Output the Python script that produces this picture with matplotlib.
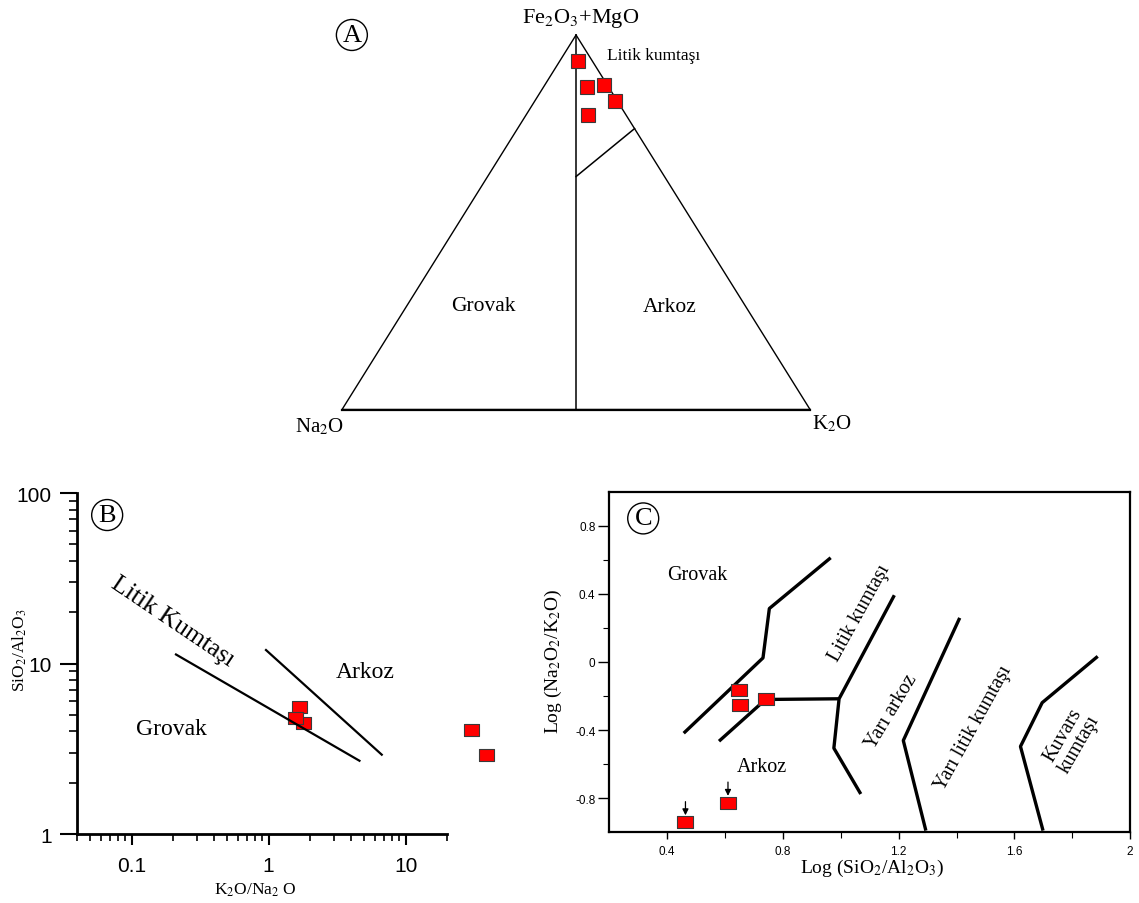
import numpy as np
import matplotlib
matplotlib.use("Agg")
import matplotlib.pyplot as plt
from matplotlib.ticker import FixedLocator, FixedFormatter, NullFormatter

plt.rcParams['font.family'] = ['Liberation Serif', 'DejaVu Serif']
plt.rcParams['mathtext.fontset'] = 'stix'

# --- A: ternary Fe2O3+MgO / Na2O / K2O (percent) ---
a_femg = [93.1, 86.1, 86.7, 82.4, 78.7]
a_na2o = [3.0, 4.7, 0.6, 0.5, 8.0]
a_k2o = [3.9, 9.2, 12.7, 17.1, 13.3]
# field boundaries (Na2O, K2O, Fe2O3+MgO)
a_div1 = [(50, 50, 0), (0, 0, 100)]
a_div2 = [(18.9, 18.9, 62.2), (0, 25, 75)]

# --- B: K2O/Na2O vs SiO2/Al2O3 ---
b_k2o_na2o = [1.66, 1.79, 1.56, 29.9, 38.7]
b_sio2_al2o3 = [5.56, 4.48, 4.77, 4.09, 2.91]
b_line1_x = [0.211, 4.60]
b_line1_y = [11.3, 2.69]
b_line2_x = [0.957, 6.69]
b_line2_y = [12.0, 2.92]

# --- C: Log(SiO2/Al2O3) vs Log(Na2O/K2O) ---
c_log_si_al = [0.648, 0.650, 0.741, 0.610, 0.463]
c_log_na_k = [-0.163, -0.251, -0.220, -0.827, -0.941]
c_bounds = [
    ([0.457, 0.731, 0.753, 0.965], [-0.418, 0.024, 0.314, 0.612]),
    ([0.579, 0.740, 0.994], [-0.465, -0.220, -0.216]),
    ([1.185, 0.994, 0.976, 1.069], [0.392, -0.216, -0.506, -0.775]),
    ([1.411, 1.216, 1.294], [0.259, -0.461, -0.99]),
    ([1.888, 1.696, 1.621, 1.699], [0.033, -0.239, -0.496, -0.99]),
]

RED = '#ff0000'
EDGE = '#3a3a3a'


def tern(na, k, fe):
    na, k, fe = np.asarray(na, float), np.asarray(k, float), np.asarray(fe, float)
    tot = na + k + fe
    return (k + fe / 2) / tot, fe / tot


def circled(ax, x, y, s, transform):
    ax.text(x, y, s, transform=transform, fontsize=19, ha='center', va='center',
            bbox=dict(boxstyle='circle,pad=0.17', fc='none', ec='black', lw=1.0))


fig = plt.figure(figsize=(11.39, 9.04), dpi=100)

# ---------------- A ----------------
axA = fig.add_axes([0.3003, 0.5459, 0.4109, 0.4143])
axA.set_xlim(0, 1)
axA.set_ylim(0, 1)
axA.axis('off')
tx, ty = tern([0, 100, 0, 0], [0, 0, 100, 0], [100, 0, 0, 100])
axA.plot(tx[:3], ty[:3], color='black', lw=1.0, clip_on=False)
axA.plot([tx[2], tx[3]], [ty[2], ty[3]], color='black', lw=1.0, clip_on=False)
axA.plot([0, 1], [0, 0], color='black', lw=1.6, clip_on=False)
for seg in (a_div1, a_div2):
    na, k, fe = zip(*seg)
    sx, sy = tern(na, k, fe)
    axA.plot(sx, sy, color='black', lw=1.1, clip_on=False)
px, py = tern(a_na2o, a_k2o, a_femg)
axA.plot(px, py, ls='none', marker='s', ms=9.6, mfc=RED, mec=EDGE, mew=0.8,
         clip_on=False, zorder=5)
axA.text(0.509, 1.048, 'Fe$_2$O$_3$+MgO', fontsize=16, ha='center', va='center')
axA.text(0.665, 0.946, 'Litik kumtaşı', fontsize=12.5, ha='center', va='center')
axA.text(0.301, 0.279, 'Grovak', fontsize=15.5, ha='center', va='center')
axA.text(0.701, 0.276, 'Arkoz', fontsize=15.5, ha='center', va='center')
axA.text(-0.047, -0.043, 'Na$_2$O', fontsize=15, ha='center', va='center')
axA.text(1.047, -0.035, 'K$_2$O', fontsize=15, ha='center', va='center')
circled(axA, 0.021, 1.0, 'A', axA.transData)

# ---------------- B ----------------
rectB = [(-1, -0.8), (1, -0.8), (1, 0.8), (-1, 0.8), (-1, -0.8)]
axB = fig.add_axes([0.0676, 0.0763, 0.3248, 0.3772])
axB.set_xscale('log')
axB.set_yscale('log')
axB.set_xlim(0.04, 20)
axB.set_ylim(1, 100)
for s in ('top', 'right'):
    axB.spines[s].set_visible(False)
for s in ('left', 'bottom'):
    axB.spines[s].set_linewidth(2.0)
axB.plot(b_line1_x, b_line1_y, color='black', lw=1.6, zorder=6)
axB.plot(b_line2_x, b_line2_y, color='black', lw=1.6, zorder=6)
axB.plot(b_k2o_na2o, b_sio2_al2o3, ls='none', marker=rectB, ms=10.8, mfc=RED,
         mec=EDGE, mew=0.8, clip_on=False, zorder=5)
axB.xaxis.set_major_locator(FixedLocator([0.1, 1, 10]))
axB.xaxis.set_major_formatter(FixedFormatter(['0.1', '1', '10']))
axB.yaxis.set_major_locator(FixedLocator([1, 10, 100]))
axB.yaxis.set_major_formatter(FixedFormatter(['1', '10', '100']))
axB.xaxis.set_minor_formatter(NullFormatter())
axB.yaxis.set_minor_formatter(NullFormatter())
axB.tick_params(axis='y', which='major', length=12, width=1.5, pad=6)
axB.tick_params(axis='y', which='minor', length=6, width=1.2)
axB.tick_params(axis='x', which='major', length=8, width=1.5, pad=8)
axB.tick_params(axis='x', which='minor', length=5, width=1.2)
for lab in axB.get_xticklabels() + axB.get_yticklabels():
    lab.set_fontfamily('Liberation Sans')
    lab.set_fontsize(15)
axB.set_xlabel('K$_2$O/Na$_2$ O', fontsize=12.5, va='center')
axB.set_ylabel('SiO$_2$/Al$_2$O$_3$', fontsize=12.5, va='center')
axB.xaxis.set_label_coords(0.481, -0.163)
axB.yaxis.set_label_coords(-0.154, 0.543)
axB.text(0.201, 17.7, 'Litik Kumtaşı', fontsize=18.5, rotation=-34,
         rotation_mode='anchor', ha='center', va='center')
axB.text(5.09, 9.0, 'Arkoz', fontsize=17, ha='center', va='center')
axB.text(0.197, 4.17, 'Grovak', fontsize=17, ha='center', va='center')
circled(axB, 0.0664, 74.3, 'B', axB.transData)

# ---------------- C ----------------
rectC = [(-1, -0.7), (1, -0.7), (1, 0.7), (-1, 0.7), (-1, -0.7)]
axC = fig.add_axes([0.535, 0.0782, 0.4572, 0.3768])
axC.set_xlim(0.2, 2.0)
axC.set_ylim(-1.0, 1.0)
for s in axC.spines.values():
    s.set_linewidth(1.6)
for bx, by in c_bounds:
    axC.plot(bx, by, color='black', lw=2.4, solid_capstyle='butt')
axC.plot(c_log_si_al, c_log_na_k, ls='none', marker=rectC, ms=12.2, mfc=RED,
         mec=EDGE, mew=0.8, zorder=5, clip_on=False)
for ax_x, y_tip, y_tail in [(0.463, -0.900, -0.820), (0.610, -0.786, -0.705)]:
    axC.annotate('', xy=(ax_x, y_tip), xytext=(ax_x, y_tail),
                 arrowprops=dict(arrowstyle='-|>', color='black', lw=0.9,
                                 mutation_scale=9, shrinkA=0, shrinkB=0))
axC.set_xticks([0.4, 0.8, 1.2, 1.6, 2.0])
axC.set_xticklabels(['0.4', '0.8', '1.2', '1.6', '2'])
axC.set_yticks([-0.8, -0.4, 0, 0.4, 0.8])
axC.set_yticklabels(['-0.8', '-0.4', '0', '0.4', '0.8'])
axC.set_xticks([0.6, 1.0, 1.4, 1.8], minor=True)
axC.set_yticks([-0.6, -0.2, 0.2, 0.6], minor=True)
axC.tick_params(which='major', length=8, width=1.0, pad=2, labelsize=8.5)
axC.tick_params(which='minor', length=4, width=0.8)
axC.tick_params(axis='x', which='major', length=5, pad=4)
for lab in axC.get_xticklabels() + axC.get_yticklabels():
    lab.set_fontfamily('Liberation Sans')
axC.set_xlabel('Log (SiO$_2$/Al$_2$O$_3$)', fontsize=14, va='center')
axC.set_ylabel('Log (Na$_2$O$_2$/K$_2$O)', fontsize=14, va='center')
axC.xaxis.set_label_coords(0.505, -0.102)
axC.yaxis.set_label_coords(-0.107, 0.503)
axC.text(0.503, 0.514, 'Grovak', fontsize=14.5, ha='center', va='center')
axC.text(0.729, -0.614, 'Arkoz', fontsize=14.5, ha='center', va='center')
axC.text(1.065, 0.294, 'Litik kumtaşı', fontsize=14.5, rotation=61,
         rotation_mode='anchor', ha='center', va='center')
axC.text(1.174, -0.285, 'Yarı arkoz', fontsize=14.5, rotation=59,
         rotation_mode='anchor', ha='center', va='center')
axC.text(1.459, -0.382, 'Yarı litik kumtaşı', fontsize=14.5, rotation=61,
         rotation_mode='anchor', ha='center', va='center')
axC.text(1.796, -0.451, 'Kuvars\nkumtaşı', fontsize=14.5, rotation=60,
         rotation_mode='anchor', ha='center', va='center', linespacing=0.95)
circled(axC, 0.317, 0.843, 'C', axC.transData)

fig.savefig('out.png', dpi=100)
